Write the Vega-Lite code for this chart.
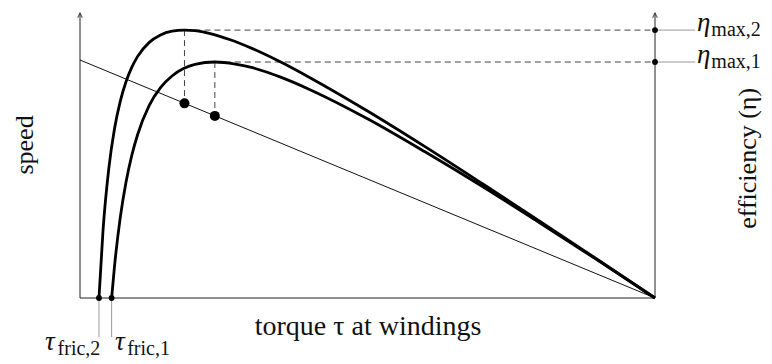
{
  "$schema": "https://vega.github.io/schema/vega-lite/v6.json",
  "width": 575,
  "height": 285,
  "autosize": {"type": "none"},
  "padding": {"left": 80, "top": 13, "right": 117, "bottom": 66},
  "background": "white",
  "config": {"view": {"stroke": null}, "text": {"font": "Liberation Serif"}},
  "datasets": {
    "curves": [
      {"series": "eta2", "torque": 3.3, "eff": 0},
      {"series": "eta2", "torque": 4, "eff": 23.6},
      {"series": "eta2", "torque": 5, "eff": 45.3},
      {"series": "eta2", "torque": 6, "eff": 59.4},
      {"series": "eta2", "torque": 7, "eff": 69.0},
      {"series": "eta2", "torque": 8, "eff": 75.9},
      {"series": "eta2", "torque": 9, "eff": 80.9},
      {"series": "eta2", "torque": 10, "eff": 84.7},
      {"series": "eta2", "torque": 12, "eff": 89.6},
      {"series": "eta2", "torque": 14, "eff": 92.3},
      {"series": "eta2", "torque": 16, "eff": 93.6},
      {"series": "eta2", "torque": 18.17, "eff": 94.0},
      {"series": "eta2", "torque": 20, "eff": 93.8},
      {"series": "eta2", "torque": 23, "eff": 92.6},
      {"series": "eta2", "torque": 26, "eff": 90.7},
      {"series": "eta2", "torque": 30, "eff": 87.5},
      {"series": "eta2", "torque": 35, "eff": 82.7},
      {"series": "eta2", "torque": 40, "eff": 77.3},
      {"series": "eta2", "torque": 50, "eff": 65.6},
      {"series": "eta2", "torque": 60, "eff": 53.1},
      {"series": "eta2", "torque": 70, "eff": 40.1},
      {"series": "eta2", "torque": 80, "eff": 26.9},
      {"series": "eta2", "torque": 90, "eff": 13.5},
      {"series": "eta2", "torque": 100, "eff": 0},
      {"series": "eta1", "torque": 5.5, "eff": 0},
      {"series": "eta1", "torque": 6, "eff": 11.1},
      {"series": "eta1", "torque": 7, "eff": 28.2},
      {"series": "eta1", "torque": 8, "eff": 40.6},
      {"series": "eta1", "torque": 9, "eff": 50.0},
      {"series": "eta1", "torque": 10, "eff": 57.2},
      {"series": "eta1", "torque": 12, "eff": 67.4},
      {"series": "eta1", "torque": 14, "eff": 73.8},
      {"series": "eta1", "torque": 16, "eff": 77.9},
      {"series": "eta1", "torque": 18, "eff": 80.5},
      {"series": "eta1", "torque": 20, "eff": 82.0},
      {"series": "eta1", "torque": 23.45, "eff": 82.8},
      {"series": "eta1", "torque": 27, "eff": 82.1},
      {"series": "eta1", "torque": 30, "eff": 80.8},
      {"series": "eta1", "torque": 35, "eff": 77.4},
      {"series": "eta1", "torque": 40, "eff": 73.1},
      {"series": "eta1", "torque": 50, "eff": 62.9},
      {"series": "eta1", "torque": 60, "eff": 51.3},
      {"series": "eta1", "torque": 70, "eff": 39.1},
      {"series": "eta1", "torque": 80, "eff": 26.3},
      {"series": "eta1", "torque": 90, "eff": 13.3},
      {"series": "eta1", "torque": 100, "eff": 0}
    ],
    "speed": [
      {"torque": 0, "speed": 83.5},
      {"torque": 100, "speed": 0}
    ],
    "axes": [
      {"x": 0, "y": 0, "x2": 0, "y2": 100},
      {"x": 100, "y": 0, "x2": 100, "y2": 100},
      {"x": 0, "y": 0, "x2": 100, "y2": 0}
    ],
    "arrows": [
      {"x": 0, "y": 100},
      {"x": 100, "y": 100}
    ],
    "dashed": [
      {"x": 18.17, "y": 94.0, "x2": 100, "y2": 94.0},
      {"x": 23.45, "y": 82.8, "x2": 100, "y2": 82.8},
      {"x": 18.17, "y": 94.0, "x2": 18.17, "y2": 68.3},
      {"x": 23.45, "y": 82.8, "x2": 23.45, "y2": 63.9}
    ],
    "grey": [
      {"x": 100, "y": 94.0, "x2": 107, "y2": 94.0},
      {"x": 100, "y": 82.8, "x2": 107, "y2": 82.8},
      {"x": 3.3, "y": 0, "x2": 3.3, "y2": -13.7},
      {"x": 5.5, "y": 0, "x2": 5.5, "y2": -13.7}
    ],
    "bigdots": [
      {"x": 18.17, "y": 68.3},
      {"x": 23.45, "y": 63.9}
    ],
    "smalldots": [
      {"x": 100, "y": 94.0},
      {"x": 100, "y": 82.8},
      {"x": 3.3, "y": 0},
      {"x": 5.5, "y": 0}
    ],
    "titles": [
      {"x": 50.1, "y": -13.0, "text": "torque τ at windings"}
    ],
    "rotated": [
      {"x": -9.6, "y": 53.7, "text": "speed"},
      {"x": 116.2, "y": 49.0, "text": "efficiency (η)"}
    ],
    "greek": [
      {"x": 107.3, "y": 93.6, "text": "η"},
      {"x": 107.3, "y": 82.4, "text": "η"},
      {"x": -6.1, "y": -18.2, "text": "τ"},
      {"x": 6.1, "y": -18.2, "text": "τ"}
    ],
    "subs": [
      {"x": 109.8, "y": 91.8, "text": "max,2"},
      {"x": 109.8, "y": 80.6, "text": "max,1"},
      {"x": -3.9, "y": -20.0, "text": "fric,2"},
      {"x": 8.2, "y": -20.0, "text": "fric,1"}
    ]
  },
  "layer": [
    {
      "data": {"name": "axes"},
      "mark": {"type": "rule", "color": "#222", "strokeWidth": 1, "clip": false},
      "encoding": {
        "x": {"field": "x", "type": "quantitative", "scale": {"domain": [0, 100]}, "axis": null},
        "y": {"field": "y", "type": "quantitative", "scale": {"domain": [0, 100]}, "axis": null},
        "x2": {"field": "x2"},
        "y2": {"field": "y2"}
      }
    },
    {
      "data": {"name": "arrows"},
      "mark": {"type": "point", "shape": "M -0.5 1 L 0 0 L 0.5 1", "filled": false, "stroke": "#222", "strokeWidth": 1.2, "size": 90, "clip": false},
      "encoding": {
        "x": {"field": "x", "type": "quantitative"},
        "y": {"field": "y", "type": "quantitative"}
      }
    },
    {
      "data": {"name": "dashed"},
      "mark": {"type": "rule", "color": "#444", "strokeWidth": 1, "strokeDash": [6, 4], "clip": false},
      "encoding": {
        "x": {"field": "x", "type": "quantitative"},
        "y": {"field": "y", "type": "quantitative"},
        "x2": {"field": "x2"},
        "y2": {"field": "y2"}
      }
    },
    {
      "data": {"name": "grey"},
      "mark": {"type": "rule", "color": "#999", "strokeWidth": 1, "clip": false},
      "encoding": {
        "x": {"field": "x", "type": "quantitative"},
        "y": {"field": "y", "type": "quantitative"},
        "x2": {"field": "x2"},
        "y2": {"field": "y2"}
      }
    },
    {
      "data": {"name": "speed"},
      "mark": {"type": "line", "color": "#111", "strokeWidth": 1, "clip": false},
      "encoding": {
        "x": {"field": "torque", "type": "quantitative"},
        "y": {"field": "speed", "type": "quantitative"}
      }
    },
    {
      "data": {"name": "curves"},
      "mark": {"type": "line", "color": "#000", "strokeWidth": 2.8, "interpolate": "monotone", "clip": false},
      "encoding": {
        "x": {"field": "torque", "type": "quantitative"},
        "y": {"field": "eff", "type": "quantitative"},
        "detail": {"field": "series", "type": "nominal"}
      }
    },
    {
      "data": {"name": "bigdots"},
      "mark": {"type": "circle", "color": "#000", "opacity": 1, "size": 100, "clip": false},
      "encoding": {
        "x": {"field": "x", "type": "quantitative"},
        "y": {"field": "y", "type": "quantitative"}
      }
    },
    {
      "data": {"name": "smalldots"},
      "mark": {"type": "circle", "color": "#000", "opacity": 1, "size": 34, "clip": false},
      "encoding": {
        "x": {"field": "x", "type": "quantitative"},
        "y": {"field": "y", "type": "quantitative"}
      }
    },
    {
      "data": {"name": "titles"},
      "mark": {"type": "text", "fontSize": 28, "color": "#111", "align": "center", "baseline": "alphabetic", "clip": false},
      "encoding": {
        "x": {"field": "x", "type": "quantitative"},
        "y": {"field": "y", "type": "quantitative"},
        "text": {"field": "text"}
      }
    },
    {
      "data": {"name": "rotated"},
      "mark": {"type": "text", "fontSize": 26, "color": "#111", "align": "center", "baseline": "middle", "angle": 270, "clip": false},
      "encoding": {
        "x": {"field": "x", "type": "quantitative"},
        "y": {"field": "y", "type": "quantitative"},
        "text": {"field": "text"}
      }
    },
    {
      "data": {"name": "greek"},
      "mark": {"type": "text", "fontSize": 27, "fontStyle": "italic", "color": "#111", "align": "left", "baseline": "alphabetic", "clip": false},
      "encoding": {
        "x": {"field": "x", "type": "quantitative"},
        "y": {"field": "y", "type": "quantitative"},
        "text": {"field": "text"}
      }
    },
    {
      "data": {"name": "subs"},
      "mark": {"type": "text", "fontSize": 20, "color": "#111", "align": "left", "baseline": "alphabetic", "clip": false},
      "encoding": {
        "x": {"field": "x", "type": "quantitative"},
        "y": {"field": "y", "type": "quantitative"},
        "text": {"field": "text"}
      }
    }
  ]
}
